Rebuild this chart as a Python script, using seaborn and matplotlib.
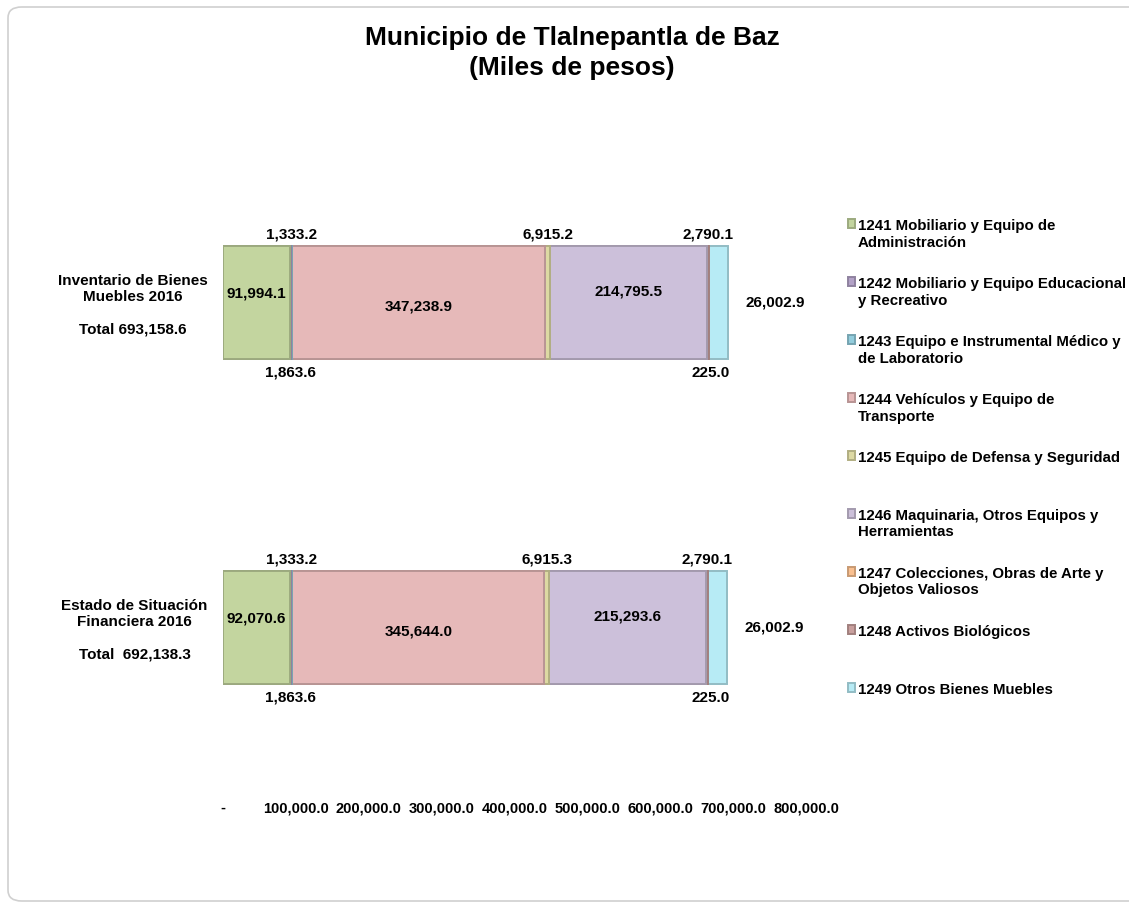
import numpy as np
import pandas as pd
import matplotlib
matplotlib.use('Agg')
import matplotlib.pyplot as plt
from matplotlib.patches import FancyBboxPatch
from matplotlib.colors import to_rgb
import seaborn as sns

#-----------------------------------------------
cuentas=['1241 Mobiliario y Equipo de\nAdministración',
         '1242 Mobiliario y Equipo Educacional\ny Recreativo',
         '1243 Equipo e Instrumental Médico y\nde Laboratorio',
         '1244 Vehículos y Equipo de\nTransporte',
         '1245 Equipo de Defensa y Seguridad\n ',
         '1246 Maquinaria, Otros Equipos y\nHerramientas',
         '1247 Colecciones, Obras de Arte y\nObjetos Valiosos',
         '1248 Activos Biológicos\n ',
         '1249 Otros Bienes Muebles\n ']
conceptos=['Inventario de Bienes\nMuebles 2016\n\nTotal 693,158.6',
           'Estado de Situación\nFinanciera 2016\n\nTotal  692,138.3']
inventario=[91994.1, 1863.6, 1333.2, 347238.9, 6915.2, 214795.5, 225.0, 2790.1, 26002.9]
estado=[92070.6, 1863.6, 1333.2, 345644.0, 6915.3, 215293.6, 225.0, 2790.1, 26002.9]
xticks=[0, 100000, 200000, 300000, 400000, 500000, 600000, 700000, 800000]

colores=['#c3d59f', '#b3a2c7', '#93cddd', '#e6b9b9', '#ddd9a3',
         '#ccc0da', '#fac090', '#c9a09e', '#b7ebf5']
#label placement per segment: (where, dx px, dy px)
pos=[('in', 0, -9), ('below', 0, 0), ('above', 0, 0), ('in', 0, 4), ('above', 0, 0),
     ('in', 0, -11), ('below', 4, 0), ('above', 0, 0), ('right', 0, 0)]

#######################################################
rows=[]
for c, vals in zip(conceptos, [inventario, estado]):
    cum=np.cumsum(vals)
    for i, (k, v) in enumerate(zip(cuentas, vals)):
        rows.append({'concepto': c, 'cuenta': k, 'i': i, 'valor': v,
                     'ini': cum[i]-v, 'fin': cum[i]})
df=pd.DataFrame(rows)

W, H=1129, 905
fig=plt.figure(figsize=(W/100, H/100), dpi=100)
fig.patch.set_facecolor('white')
ax=fig.add_axes([223/W, 1-790/H, (806-223)/W, 650/H])

bold={'family': ['Liberation Sans', 'DejaVu Sans'], 'weight': 'bold'}
narrow={'family': ['Liberation Sans Narrow', 'Liberation Sans', 'DejaVu Sans'], 'weight': 'bold'}

def darker(c, f=0.8):
    return tuple(np.array(to_rgb(c))*f)

#stack: draw widest cumulative first, then overlay the shorter ones
handles={}
for i in reversed(range(len(cuentas))):
    d=df[df['i']==i]
    sns.barplot(data=d, x='fin', y='concepto', order=conceptos, orient='h',
                color=colores[i], saturation=1, width=0.345,
                edgecolor=darker(colores[i]), linewidth=1.4, ax=ax)
    handles[i]=ax.containers[-1]

#value labels
fs=11
for _, r in df.iterrows():
    where, dx, dy=pos[r['i']]
    yc=conceptos.index(r['concepto'])
    xm=(r['ini']+r['fin'])/2
    txt=f"{r['valor']:,.1f}"
    if where=='in':
        ax.annotate(txt, (xm, yc), xytext=(dx, -dy), textcoords='offset pixels',
                    ha='center', va='center', fontsize=fs, **bold)
    elif where=='above':
        ax.annotate(txt, (xm, yc-0.345/2), xytext=(dx, 5), textcoords='offset pixels',
                    ha='center', va='bottom', fontsize=fs, **bold)
    elif where=='below':
        ax.annotate(txt, (xm, yc+0.345/2), xytext=(dx, -7), textcoords='offset pixels',
                    ha='center', va='top', fontsize=fs, **bold)
    else:
        ax.annotate(txt, (r['fin'], yc), xytext=(17, 0), textcoords='offset pixels',
                    ha='left', va='center', fontsize=fs, **bold)

#axes
ax.set_xlim(0, 800000)
ax.set_ylim(1.5, -0.5)
ax.set_xticks(xticks)
ax.set_xticklabels(['-']+[f'{v:,.1f}' for v in xticks[1:]], fontsize=10.5, **narrow)
ax.set_yticks(range(len(conceptos)))
ax.set_yticklabels(conceptos, fontsize=11, **bold)
for t in ax.get_yticklabels():
    t.set_multialignment('center')
ax.tick_params(axis='both', length=0)
ax.tick_params(axis='x', pad=8)
ax.tick_params(axis='y', pad=11)
ax.set_xlabel('')
ax.set_ylabel('')
sns.despine(ax=ax, left=True, bottom=True)
ax.set_facecolor('none')

#legend
leg=fig.legend([handles[i] for i in range(len(cuentas))], cuentas,
               loc='upper left', bbox_to_anchor=(834/W, 1-206/H), frameon=False,
               handlelength=0.5, handleheight=0.5, handletextpad=0.2,
               labelspacing=1.85, prop={'family': ['Liberation Sans', 'DejaVu Sans'],
                                        'weight': 'bold', 'size': 10.8})
#marker next to the first line of each entry
for col in leg._legend_handle_box.get_children():
    for item in col.get_children():
        item.align='top'

#title
fig.text(572/W, 1-53/H, 'Municipio de Tlalnepantla de Baz\n(Miles de pesos)',
         ha='center', va='center', fontsize=19, linespacing=1.3, **narrow)

#card border
fig.patches.append(FancyBboxPatch((8/W, 4/H), 1135/W, (898-4)/H,
                                  boxstyle='round,pad=0,rounding_size=0.012',
                                  transform=fig.transFigure, facecolor='none',
                                  edgecolor='#d0d0d0', linewidth=1.2))

fig.savefig('out.png', dpi=100)
plt.close()
